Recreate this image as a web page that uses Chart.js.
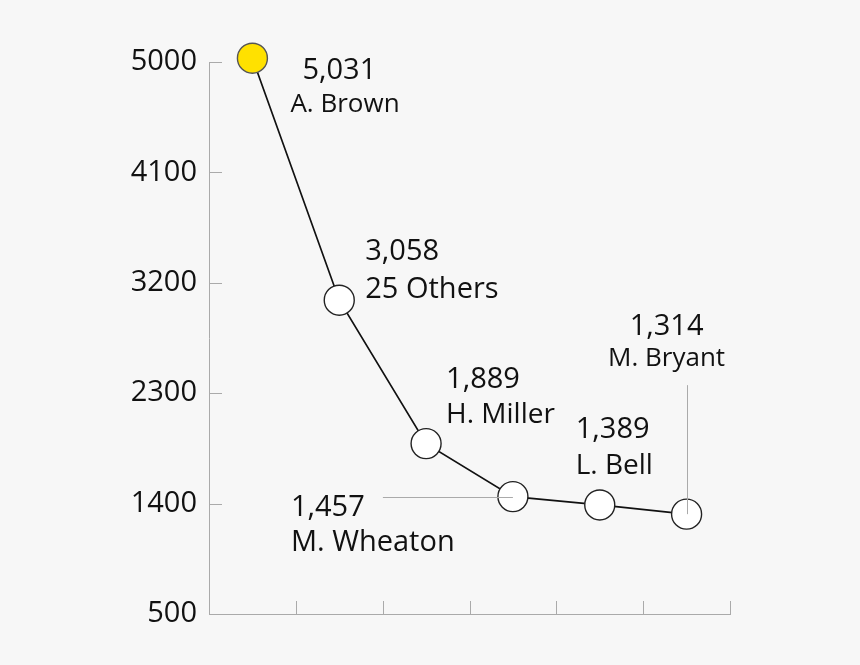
<!DOCTYPE html>
<html>
<head>
<meta charset="utf-8">
<script src="https://cdn.jsdelivr.net/npm/chart.js@4.4.0/dist/chart.umd.min.js"></script>
<style>
  body { margin: 0; background: #f7f7f7; }
  #wrap { width: 860px; height: 665px; }
</style>
</head>
<body>
<div id="wrap"><canvas id="chart" width="860" height="665"></canvas></div>
<script>
// data
const names = ['A. Brown', '25 Others', 'H. Miller', 'M. Wheaton', 'L. Bell', 'M. Bryant'];
const votes = [5031, 3058, 1889, 1457, 1389, 1314];
const yTicks = [500, 1400, 2300, 3200, 4100, 5000];

const axisColor = '#aaaaaa';
const font = "'Open Sans', 'Noto Sans', sans-serif";

// where each label sits relative to its point (offsets in px)
const placements = [
    { dx: 50,   numY: 21,   nameDx: 38,  nameY: 54,   size: 26 },
    { dx: 26,   numY: -40,  nameDx: 26,  nameY: -2,   size: 29 },
    { dx: 20,   numY: -56,  nameDx: 20,  nameY: -21,  size: 28 },
    { dx: -222, numY: 19,   nameDx: -222, nameY: 54,  size: 29 },
    { dx: -24,  numY: -67,  nameDx: -24, nameY: -31,  size: 28 },
    { dx: -20,  numY: -179, nameDx: -20, nameY: -148, size: 26, center: true }
];
const numSize = 29;

// inward tick marks on both axes
const innerTicks = {
    id: 'innerTicks',
    beforeDatasetsDraw(chart) {
        const ctx = chart.ctx
        const area = chart.chartArea
        const x = chart.scales.x
        const y = chart.scales.y
        ctx.save()
        ctx.strokeStyle = axisColor
        ctx.lineWidth = 1
        ctx.beginPath()
        y.ticks.forEach(t => {
            let py = Math.round(y.getPixelForValue(t.value)) + 0.5
            ctx.moveTo(area.left, py)
            ctx.lineTo(area.left + 13, py)
        })
        let n = names.length
        for (let i = 0; i <= n; i++) {
            let px
            if (i === 0) px = area.left
            else if (i === n) px = area.right
            else px = (x.getPixelForValue(i - 1) + x.getPixelForValue(i)) / 2
            px = Math.round(px) + 0.5
            ctx.moveTo(px, area.bottom)
            ctx.lineTo(px, area.bottom - 13)
        }
        ctx.stroke()
        ctx.restore()
    }
}

// value + name labels, with the two leader lines
const pointLabels = {
    id: 'pointLabels',
    afterDatasetsDraw(chart) {
        const ctx = chart.ctx
        const pts = chart.getDatasetMeta(0).data
        ctx.save()

        ctx.strokeStyle = axisColor
        ctx.lineWidth = 1
        ctx.beginPath()
        let w = pts[3]
        ctx.moveTo(w.x - 130, Math.round(w.y) + 0.5)
        ctx.lineTo(w.x, Math.round(w.y) + 0.5)
        let b = pts[5]
        ctx.moveTo(Math.round(b.x) + 0.5, b.y - 129)
        ctx.lineTo(Math.round(b.x) + 0.5, b.y)
        ctx.stroke()

        ctx.fillStyle = '#111111'
        ctx.textBaseline = 'alphabetic'
        pts.forEach((p, i) => {
            let pl = placements[i]
            ctx.textAlign = pl.center ? 'center' : 'left'
            ctx.font = numSize + 'px ' + font
            ctx.fillText(votes[i].toLocaleString('en-US'), p.x + pl.dx, p.y + pl.numY)
            ctx.font = pl.size + 'px ' + font
            ctx.fillText(names[i], p.x + pl.nameDx, p.y + pl.nameY)
        })
        ctx.restore()
    }
}

const data = {
    labels: names,
    datasets: [{
        data: votes,
        borderColor: '#111111',
        borderWidth: 1.7,
        pointRadius: 15,
        pointHoverRadius: 15,
        pointBorderWidth: 1.4,
        pointBackgroundColor: votes.map((v, i) => i === 0 ? '#ffe100' : '#ffffff'),
        pointBorderColor: votes.map((v, i) => i === 0 ? '#555555' : '#222222'),
        tension: 0,
        clip: false
    }]
}

const config = {
    type: 'line',
    data: data,
    options: {
        responsive: false,
        animation: false,
        events: [],
        layout: { padding: { top: 62, right: 130, left: 0, bottom: 0 } },
        plugins: { legend: { display: false }, tooltip: { enabled: false } },
        scales: {
            x: {
                type: 'category',
                offset: true,
                ticks: { display: false },
                grid: { display: false, drawTicks: false },
                border: { display: true, color: axisColor, width: 1 },
                afterFit(scale) { scale.height = 51 }
            },
            y: {
                min: yTicks[0],
                max: yTicks[yTicks.length - 1],
                afterBuildTicks(scale) { scale.ticks = yTicks.map(v => ({ value: v })) },
                ticks: {
                    padding: 12,
                    color: '#111111',
                    font: { family: font, size: 29 },
                    callback: v => String(v)
                },
                grid: { display: false, drawTicks: false },
                border: { display: true, color: axisColor, width: 1 },
                afterFit(scale) { scale.width = 209 }
            }
        }
    },
    plugins: [innerTicks, pointLabels]
}

let ctx = document.getElementById('chart').getContext('2d')
new Chart(ctx, config)
</script>
</body>
</html>
